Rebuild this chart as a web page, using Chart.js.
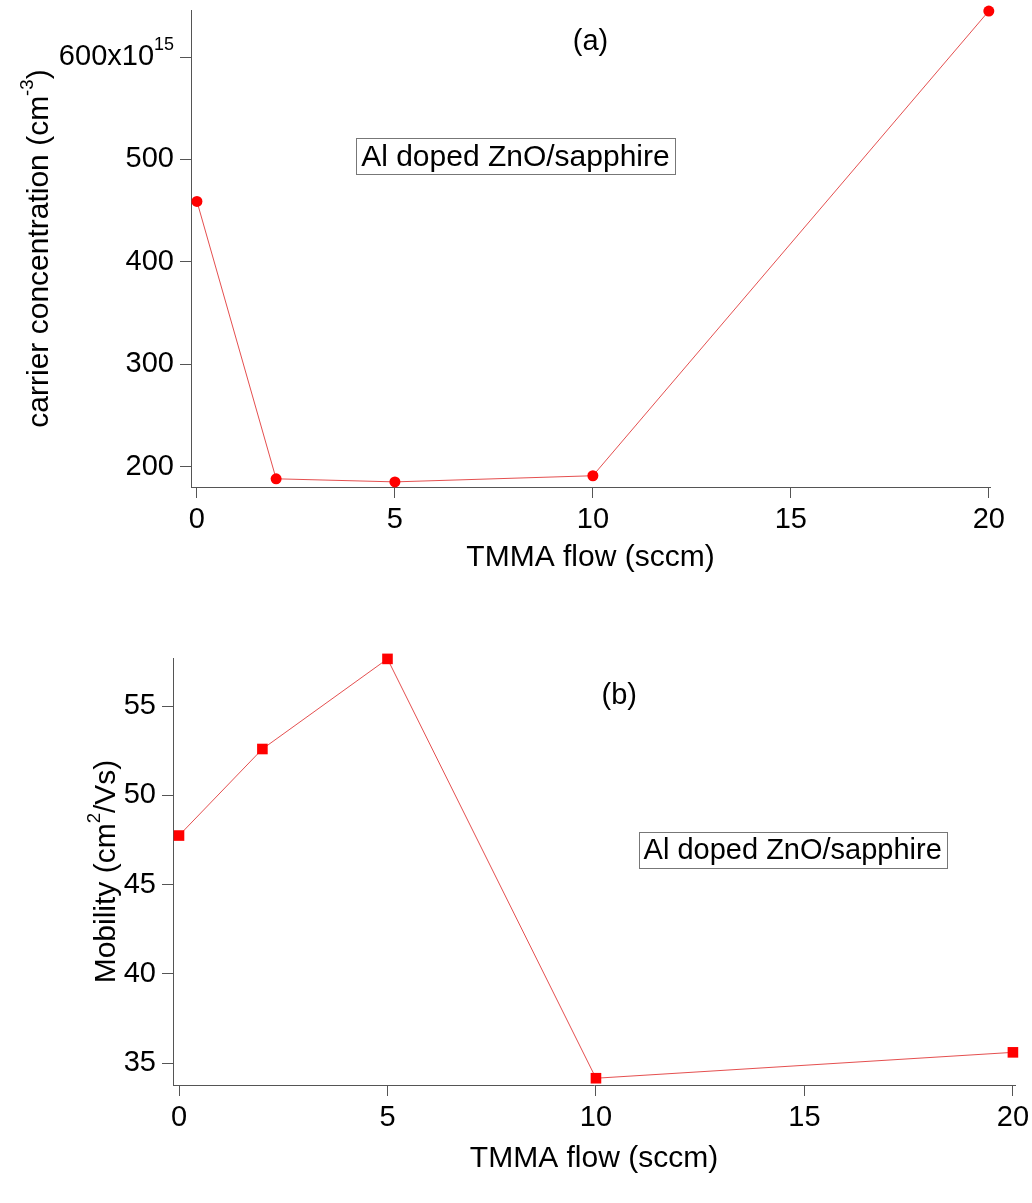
<!DOCTYPE html>
<html>
<head>
<meta charset="utf-8">
<script src="https://cdn.jsdelivr.net/npm/chart.js@4.4.1/dist/chart.umd.min.js"></script>
<style>
  html, body { margin: 0; padding: 0; background: #fff; }
  #wrap { position: relative; width: 1032px; height: 1203px; }
  #topChart { position: absolute; left: 0; top: 0; }
  #bottomChart { position: absolute; left: 0; top: 600px; }
</style>
</head>
<body>
<div id="wrap">
  <canvas id="topChart" width="1032" height="600"></canvas>
  <canvas id="bottomChart" width="1032" height="603"></canvas>
</div>
<script>
// TMMA flow (sccm)
const flow = [0, 2, 5, 10, 20];
// carrier concentration, units of 1e15 cm^-3
const carrier = [459, 188, 185, 191, 645];
// mobility, cm^2/Vs
const mobility = [47.75, 52.6, 57.65, 34.15, 35.6];

const xTicks = [0, 5, 10, 15, 20];
const carrierTicks = [200, 300, 400, 500, 600];
const mobilityTicks = [35, 40, 45, 50, 55];

const FONT = "'Liberation Sans', Arial, sans-serif";
const AXIS = '#555';

// text made of plain and superscript pieces
function richWidth(ctx, parts, size) {
  let w = 0;
  parts.forEach(p => {
    ctx.font = (p.sup ? size * 0.62 : size) + 'px ' + FONT;
    w += ctx.measureText(p.t).width;
  });
  return w;
}
function drawRich(ctx, parts, x, y, size, align) {
  const w = richWidth(ctx, parts, size);
  let cx = align === 'right' ? x - w : align === 'center' ? x - w / 2 : x;
  ctx.textBaseline = 'middle';
  ctx.textAlign = 'left';
  parts.forEach(p => {
    ctx.font = (p.sup ? size * 0.62 : size) + 'px ' + FONT;
    ctx.fillText(p.t, cx, p.sup ? y - size * 0.42 : y);
    cx += ctx.measureText(p.t).width;
  });
}

const figureText = {
  id: 'figureText',
  afterDraw(chart, args, opts) {
    const ctx = chart.ctx;
    const a = chart.chartArea;
    const sy = chart.scales.y;
    ctx.save();
    ctx.fillStyle = '#000';

    // panel letter
    ctx.font = '29px ' + FONT;
    ctx.textAlign = 'center';
    ctx.textBaseline = 'middle';
    ctx.fillText(opts.letter.t, a.left + opts.letter.fx * a.width, a.top + opts.letter.fy * a.height);

    // boxed label
    const bx = a.left + opts.box.fx * a.width, by = a.top + opts.box.fy * a.height;
    ctx.font = opts.box.size + 'px ' + FONT;
    const tw = ctx.measureText(opts.box.t).width;
    ctx.fillText(opts.box.t, bx, by + 1);
    ctx.strokeStyle = '#777';
    ctx.lineWidth = 1;
    ctx.strokeRect(Math.round(bx - tw / 2 - 5) + 0.5, Math.round(by - 18) + 0.5, Math.round(tw + 10), 36);

    // x title
    ctx.font = '30px ' + FONT;
    ctx.textAlign = 'center';
    ctx.fillText('TMMA flow (sccm)', (a.left + a.right) / 2, a.bottom + opts.xTitleDy);

    // y title, rotated
    ctx.save();
    ctx.translate(opts.yTitleX, (a.top + a.bottom) / 2);
    ctx.rotate(-Math.PI / 2);
    drawRich(ctx, opts.yTitle, 0, 0, 30, 'center');
    ctx.restore();

    // tick label carrying the exponent
    if (opts.expTick) {
      const y = sy.getPixelForValue(opts.expTick.value);
      drawRich(ctx, opts.expTick.parts, sy.right - 17, y, 29, 'right');
    }
    ctx.restore();
  }
};

function makeChart(id, values, ticks, cfg) {
  return new Chart(document.getElementById(id), {
    type: 'scatter',
    data: {
      datasets: [{
        data: flow.map((f, i) => ({ x: f, y: values[i] })),
        showLine: true,
        clip: false,
        borderColor: 'rgba(225,60,60,0.9)',
        borderWidth: 1,
        pointStyle: cfg.pointStyle,
        pointRadius: cfg.pointRadius,
        pointBackgroundColor: '#ff0000',
        pointBorderColor: '#ff0000',
        pointBorderWidth: 0
      }]
    },
    options: {
      responsive: false,
      animation: false,
      layout: { padding: { top: cfg.top, right: cfg.right, left: 0, bottom: 0 } },
      plugins: {
        legend: { display: false },
        tooltip: { enabled: false },
        figureText: cfg.text
      },
      scales: {
        x: {
          type: 'linear',
          min: cfg.xMin, max: cfg.xMax,
          afterFit: s => { s.height = cfg.xHeight; s.paddingLeft = 0; s.paddingRight = 0; },
          afterBuildTicks: s => { s.ticks = xTicks.map(v => ({ value: v })); },
          border: { display: true, color: AXIS, width: 1 },
          grid: { drawOnChartArea: false, drawTicks: true, tickLength: 11, color: AXIS },
          ticks: { color: '#000', font: { family: FONT, size: 29 }, padding: 5, maxRotation: 0 }
        },
        y: {
          type: 'linear',
          min: cfg.yMin, max: cfg.yMax,
          afterFit: s => { s.width = cfg.yWidth; s.paddingTop = 0; s.paddingBottom = 0; },
          afterBuildTicks: s => { s.ticks = ticks.map(v => ({ value: v })); },
          border: { display: true, color: AXIS, width: 1 },
          grid: { drawOnChartArea: false, drawTicks: true, tickLength: 11, color: AXIS },
          ticks: {
            color: '#000', font: { family: FONT, size: 29 }, padding: 6,
            callback: v => (cfg.text.expTick && v === cfg.text.expTick.value) ? '' : v
          }
        }
      }
    },
    plugins: [figureText]
  });
}

makeChart('topChart', carrier, carrierTicks, {
  pointStyle: 'circle', pointRadius: 5.5,
  top: 10, right: 42, yWidth: 191, xHeight: 113,
  xMin: -0.15, xMax: 20.03, yMin: 180, yMax: 646,
  text: {
    letter: { t: '(a)', fx: 0.5, fy: 0.068 },
    box: { t: 'Al doped ZnO/sapphire', fx: 0.406, fy: 0.307, size: 30 },
    xTitleDy: 71,
    yTitleX: 40,
    yTitle: [{ t: 'carrier concentration (cm' }, { t: '-3', sup: true }, { t: ')' }],
    expTick: { value: 600, parts: [{ t: '600x10' }, { t: '15', sup: true }] }
  }
});

makeChart('bottomChart', mobility, mobilityTicks, {
  pointStyle: 'rect', pointRadius: 7.5,
  top: 58, right: 17, yWidth: 173, xHeight: 118,
  xMin: -0.144, xMax: 20.05, yMin: 33.77, yMax: 57.7,
  text: {
    letter: { t: '(b)', fx: 0.53, fy: 0.09 },
    box: { t: 'Al doped ZnO/sapphire', fx: 0.736, fy: 0.45, size: 29 },
    xTitleDy: 74,
    yTitleX: 107,
    yTitle: [{ t: 'Mobility (cm' }, { t: '2', sup: true }, { t: '/Vs)' }],
    expTick: null
  }
});
</script>
</body>
</html>
